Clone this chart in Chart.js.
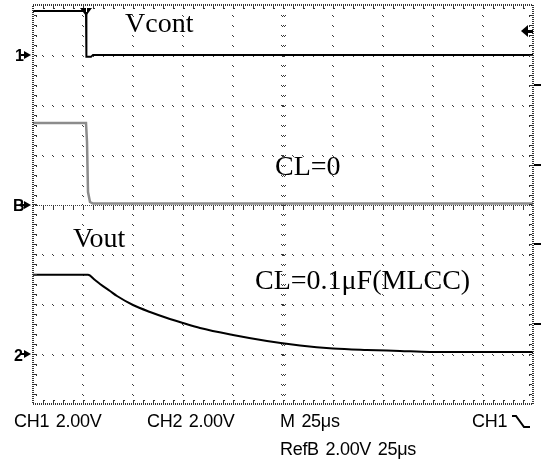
<!DOCTYPE html>
<html><head><meta charset="utf-8">
<script src="https://cdn.jsdelivr.net/npm/chart.js@4.4.0/dist/chart.umd.min.js"></script>
<style>
html,body{margin:0;padding:0;background:#fff;}
#wrap{position:relative;width:545px;height:459px;overflow:hidden;background:#fff;}
canvas{position:absolute;left:0;top:0;}
.ann{position:absolute;font-family:"Liberation Serif","Times New Roman",serif;font-size:28px;line-height:1;white-space:nowrap;color:#000;}
.scope{position:absolute;font-family:"Liberation Sans",Arial,sans-serif;font-size:18px;line-height:1;white-space:nowrap;color:#000;letter-spacing:-0.3px;word-spacing:2px;}
.mk{position:absolute;font-family:"Liberation Sans",Arial,sans-serif;font-size:16px;font-weight:bold;line-height:1;white-space:nowrap;color:#000;}
</style></head><body>
<div id="wrap">
<canvas id="c" width="545" height="459"></canvas>
<div class="ann" style="left:125px;top:9px;">Vcont</div>
<div class="ann" style="left:275px;top:152px;">CL=0</div>
<div class="ann" style="left:73px;top:224px;">Vout</div>
<div class="ann" style="left:255px;top:266px;">CL=0.1μF(MLCC)</div>
<div class="mk" style="left:15px;top:48px;">1</div>
<div class="mk" style="left:13px;top:198px;">B</div>
<div class="mk" style="left:14px;top:348px;">2</div>
<div class="scope" style="left:14px;top:412px;">CH1 2.00V</div>
<div class="scope" style="left:147px;top:412px;">CH2 2.00V</div>
<div class="scope" style="left:280px;top:412px;">M 25μs</div>
<div class="scope" style="left:472px;top:412px;">CH1</div>
<svg style="position:absolute;left:510px;top:414px;" width="22" height="16"><path d="M2 2 L6 2 L14 13 L20 13" fill="none" stroke="#000" stroke-width="2"/></svg>
<div class="scope" style="left:280px;top:440px;">RefB 2.00V 25μs</div>
</div>
<script>
// ---- data (time in µs, channel values in volts) ----
const vcontTime = [0, 26.5, 26.7, 29, 30, 250];
const vcontVolts = [1.76, 1.76, -0.08, -0.08, 0, 0];

const refbTime = [0, 26.5, 27, 27.5, 28.5, 30, 250];
const refbVolts = [3.27, 3.27, 2.51, 0.5, 0.1, 0.04, 0.04];

const voutTime = [0, 27.5, 31, 33.5, 38.5, 42, 50, 58.5, 67, 75, 83.5, 100, 117, 133.5, 150, 167, 183.5, 198.5, 250];
const voutVolts = [3.18, 3.18, 2.97, 2.81, 2.53, 2.33, 1.97, 1.69, 1.45, 1.25, 1.05, 0.77, 0.53, 0.35, 0.23, 0.17, 0.13, 0.09, 0.09];

// screen setup: 10 x 25 µs, 8 x 2 V
const timeDiv = 25, timeMax = 250;
const voltDiv = 2, screenMin = -8, screenMax = 8;
const ch1Pos = 6, refbPos = 0, ch2Pos = -6;   // ground marker positions (screen volts)
const trigTime = 26.5, trigLevel = 0.96;      // trigger marker on CH1
const rightMarks = [4.8, 1.6, -1.6, -4.8];

function pts(t, v, off) { return t.map((tt, i) => ({x: tt, y: off + v[i]})); }

const scopeGrid = {
  id: 'scopeGrid',
  beforeDatasetsDraw(chart) {
    const {ctx, chartArea: a, scales: {x, y}} = chart;
    ctx.save();
    ctx.fillStyle = '#3a3a3a';
    const minorT = timeDiv / 5, minorV = voltDiv / 5;
    const xc = timeMax / 2;
    for (let t = timeDiv; t < timeMax - 1e-6; t += timeDiv) {
      const px = Math.round(x.getPixelForValue(t));
      for (let v = screenMin + minorV; v < screenMax - 1e-6; v += minorV) {
        const py = Math.round(y.getPixelForValue(v));
        if (Math.abs(t - xc) < 1e-6) {
          ctx.fillRect(px - 2, py, 1, 1); ctx.fillRect(px - 1, py + 1, 1, 1);
          ctx.fillRect(px, py, 1, 1); ctx.fillRect(px + 1, py + 1, 1, 1); ctx.fillRect(px + 2, py, 1, 1);
        } else {
          ctx.fillRect(px - 1, py, 1, 1); ctx.fillRect(px, py + 1, 1, 1);
        }
      }
    }
    for (let v = screenMin + voltDiv; v < screenMax - 1e-6; v += voltDiv) {
      const py = Math.round(y.getPixelForValue(v));
      if (Math.abs(v) < 1e-6) {
        for (let px = Math.round(a.left); px < a.right; px += 2) ctx.fillRect(px, py, 1, 1);
        for (let t = minorT; t < timeMax; t += minorT) {
          const px = Math.round(x.getPixelForValue(t));
          ctx.fillRect(px, py, 1, 5);
        }
      } else {
        for (let t = minorT; t < timeMax - 1e-6; t += minorT) {
          const px = Math.round(x.getPixelForValue(t));
          ctx.fillRect(px - 1, py, 1, 1); ctx.fillRect(px, py + 1, 1, 1);
        }
      }
    }
    ctx.restore();
  },
  afterDatasetsDraw(chart) {
    const {ctx, chartArea: a, scales: {x, y}} = chart;
    ctx.save();
    ctx.strokeStyle = '#333';
    ctx.lineWidth = 2;
    ctx.setLineDash([1, 1]);
    ctx.strokeRect(a.left, a.top, a.right - a.left, a.bottom - a.top);
    ctx.setLineDash([]);
    ctx.fillStyle = '#333';
    const minorT = timeDiv / 5, minorV = voltDiv / 5;
    for (let t = minorT; t < timeMax; t += minorT) {
      const px = Math.round(x.getPixelForValue(t));
      ctx.fillRect(px, a.top + 1, 1, 3); ctx.fillRect(px + 1, a.top + 3, 1, 1);
      ctx.fillRect(px, a.bottom - 4, 1, 3); ctx.fillRect(px + 1, a.bottom - 4, 1, 1);
    }
    for (let v = screenMin + minorV; v < screenMax; v += minorV) {
      const py = Math.round(y.getPixelForValue(v));
      ctx.fillRect(a.left + 1, py, 3, 1); ctx.fillRect(a.left + 3, py + 1, 1, 1);
      ctx.fillRect(a.right - 4, py, 3, 1); ctx.fillRect(a.right - 4, py + 1, 1, 1);
    }
    ctx.fillStyle = '#000';
    [ch1Pos, refbPos, ch2Pos].forEach(p => {
      const py = Math.round(y.getPixelForValue(p));
      ctx.beginPath();
      ctx.moveTo(a.left - 9, py - 4); ctx.lineTo(a.left - 2, py); ctx.lineTo(a.left - 9, py + 4);
      ctx.closePath(); ctx.fill();
      ctx.fillRect(a.left - 12, py - 1, 4, 2);
    });
    const tx = Math.round(x.getPixelForValue(trigTime));
    ctx.beginPath();
    ctx.moveTo(tx - 6, a.top + 3); ctx.lineTo(tx + 6, a.top + 3); ctx.lineTo(tx, a.top + 11);
    ctx.closePath(); ctx.fill();
    ctx.fillStyle = '#fff';
    ctx.fillRect(tx, a.top + 3, 1, 4);
    ctx.fillStyle = '#000';
    const ty = Math.round(y.getPixelForValue(ch1Pos + trigLevel));
    ctx.beginPath();
    ctx.moveTo(a.right - 12, ty); ctx.lineTo(a.right - 5, ty - 6); ctx.lineTo(a.right - 5, ty + 6);
    ctx.closePath(); ctx.fill();
    ctx.fillRect(a.right - 6, ty - 1, 6, 3);
    rightMarks.forEach(v => {
      const py = Math.round(y.getPixelForValue(v));
      ctx.fillRect(a.right + 1, py - 1, 7, 2);
    });
    ctx.restore();
  }
};

new Chart(document.getElementById('c').getContext('2d'), {
  type: 'line',
  data: {
    datasets: [
      {label: 'RefB (CL=0)', data: pts(refbTime, refbVolts, refbPos), borderColor: '#8c8c8c', borderWidth: 2.5, pointRadius: 0, tension: 0},
      {label: 'Vcont', data: pts(vcontTime, vcontVolts, ch1Pos), borderColor: '#000', borderWidth: 2, pointRadius: 0, tension: 0},
      {label: 'Vout', data: pts(voutTime, voutVolts, ch2Pos), borderColor: '#000', borderWidth: 2, pointRadius: 0, cubicInterpolationMode: 'monotone'}
    ]
  },
  options: {
    responsive: false,
    animation: false,
    devicePixelRatio: 1,
    layout: {padding: {left: 33, right: 12, top: 5, bottom: 55}},
    plugins: {legend: {display: false}, tooltip: {enabled: false}},
    scales: {
      x: {type: 'linear', min: 0, max: timeMax, display: false},
      y: {type: 'linear', min: screenMin, max: screenMax, display: false}
    }
  },
  plugins: [scopeGrid]
});
</script>
</body></html>
